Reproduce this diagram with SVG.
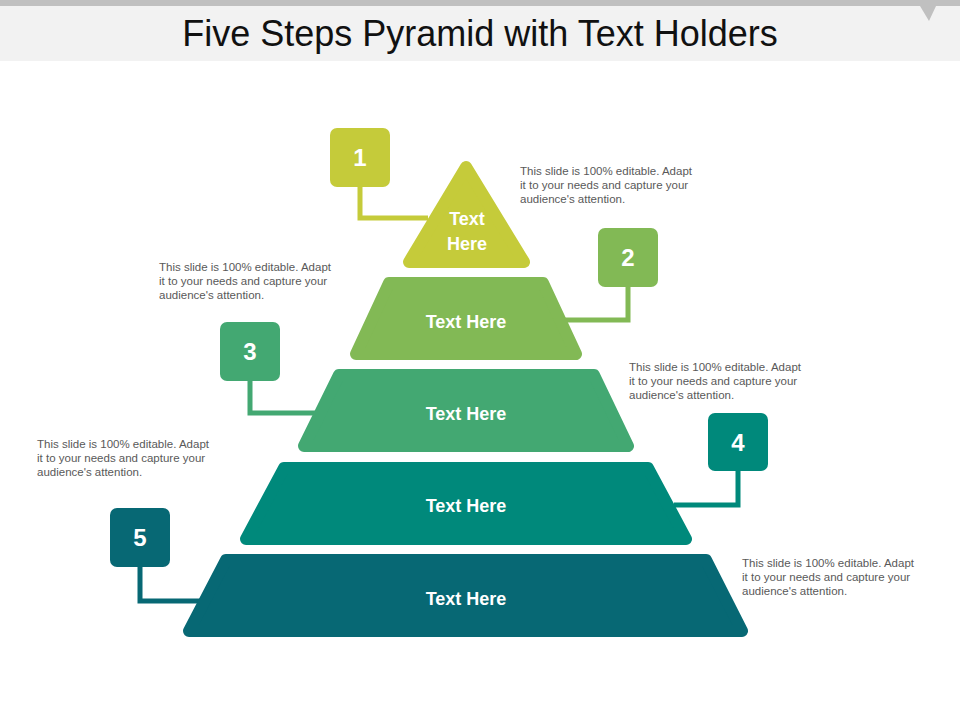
<svg xmlns="http://www.w3.org/2000/svg" width="960" height="720" viewBox="0 0 960 720">
<style>
.t{font-family:"Liberation Sans",Arial,sans-serif;font-size:11.5px;fill:#595959}
.l{font-family:"Liberation Sans",Arial,sans-serif;font-size:18px;font-weight:bold;fill:#fff;text-anchor:middle}
.n{font-family:"Liberation Sans",Arial,sans-serif;font-size:24px;font-weight:bold;fill:#fff;text-anchor:middle}
.s{stroke-linejoin:round;stroke-width:12}
.c{fill:none;stroke-width:5}
</style>
<rect width="960" height="720" fill="#fff"/>
<rect width="960" height="61" fill="#f2f2f2"/>
<rect width="960" height="6" fill="#c0c0c0"/>
<path d="M920 6 L936 6 L929 21 Z" fill="#c0c0c0"/>
<text x="480" y="46" text-anchor="middle" font-family="Liberation Sans,Arial,sans-serif" font-size="36" fill="#111">Five Steps Pyramid with Text Holders</text>
<g id="connectors">
<path class="c" stroke="#c5cb3a" d="M360 187 V218 H428"/>
<path class="c" stroke="#82b955" d="M628 287 V320 H562"/>
<path class="c" stroke="#43a872" d="M250 381 V413 H320"/>
<path class="c" stroke="#00897b" d="M738 471 V505 H674"/>
<path class="c" stroke="#076874" d="M140 567 V601 H202"/>
</g>
<g id="layer1"><path class="s" fill="#c5cb3a" stroke="#c5cb3a" d="M466 167 L524 262 L409 262 Z"/><text class="l" x="467" y="225">Text</text><text class="l" x="467" y="250">Here</text></g>
<g id="layer2"><path class="s" fill="#82b955" stroke="#82b955" d="M389 283 L543 283 L576 354 L356 354 Z"/><text class="l" x="466" y="328">Text Here</text></g>
<g id="layer3"><path class="s" fill="#43a872" stroke="#43a872" d="M339 375 L594 375 L628 446 L304 446 Z"/><text class="l" x="466" y="420">Text Here</text></g>
<g id="layer4"><path class="s" fill="#00897b" stroke="#00897b" d="M284 468 L648 468 L686 539 L246 539 Z"/><text class="l" x="466" y="512">Text Here</text></g>
<g id="layer5"><path class="s" fill="#076874" stroke="#076874" d="M226 560 L706 560 L742 631 L189 631 Z"/><text class="l" x="466" y="605">Text Here</text></g>
<g id="box1"><rect x="330" y="128" width="60" height="59" rx="7" fill="#c5cb3a"/><text class="n" x="360" y="166">1</text></g>
<g id="box2"><rect x="598" y="228" width="60" height="59" rx="7" fill="#82b955"/><text class="n" x="628" y="266">2</text></g>
<g id="box3"><rect x="220" y="322" width="60" height="59" rx="7" fill="#43a872"/><text class="n" x="250" y="360">3</text></g>
<g id="box4"><rect x="708" y="413" width="60" height="58" rx="7" fill="#00897b"/><text class="n" x="738" y="451">4</text></g>
<g id="box5"><rect x="110" y="508" width="60" height="59" rx="7" fill="#076874"/><text class="n" x="140" y="546">5</text></g>
<g id="texts">
<text class="t" x="520" y="175">This slide is 100% editable. Adapt<tspan x="520" dy="14">it to your needs and capture your</tspan><tspan x="520" dy="14">audience's attention.</tspan></text>
<text class="t" x="159" y="271">This slide is 100% editable. Adapt<tspan x="159" dy="14">it to your needs and capture your</tspan><tspan x="159" dy="14">audience's attention.</tspan></text>
<text class="t" x="629" y="371">This slide is 100% editable. Adapt<tspan x="629" dy="14">it to your needs and capture your</tspan><tspan x="629" dy="14">audience's attention.</tspan></text>
<text class="t" x="37" y="448">This slide is 100% editable. Adapt<tspan x="37" dy="14">it to your needs and capture your</tspan><tspan x="37" dy="14">audience's attention.</tspan></text>
<text class="t" x="742" y="567">This slide is 100% editable. Adapt<tspan x="742" dy="14">it to your needs and capture your</tspan><tspan x="742" dy="14">audience's attention.</tspan></text>
</g>
</svg>
